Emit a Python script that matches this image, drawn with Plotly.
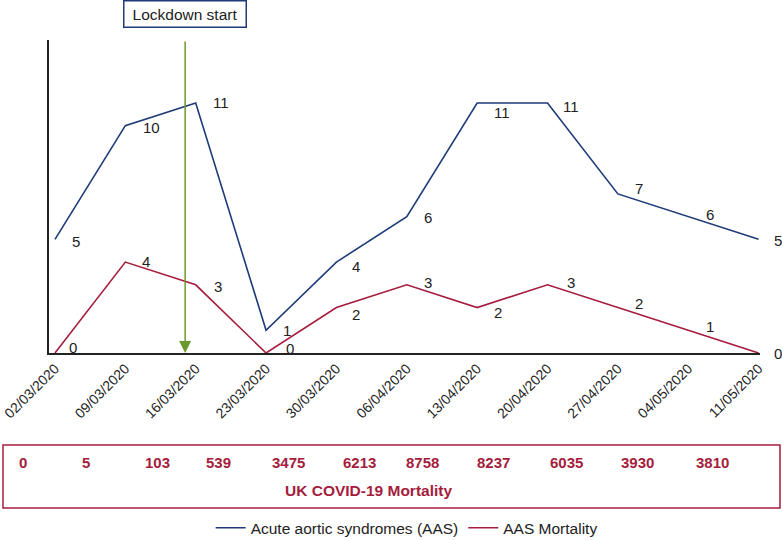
import plotly.graph_objects as go

dates = ["02/03/2020", "09/03/2020", "16/03/2020", "23/03/2020", "30/03/2020",
         "06/04/2020", "13/04/2020", "20/04/2020", "27/04/2020", "04/05/2020", "11/05/2020"]
aas = [5, 10, 11, 1, 4, 6, 11, 11, 7, 6, 5]
aas_mortality = [0, 4, 3, 0, 2, 3, 2, 3, 2, 1, 0]
uk_covid_mortality = [0, 5, 103, 539, 3475, 6213, 8758, 8237, 6035, 3930, 3810]

BLUE = "#1e3a78"
RED = "#a51d3d"
GREEN = "#6b9a2c"
FONT = "Liberation Sans, Arial, sans-serif"
NARROW = "Liberation Sans Narrow, Arial Narrow, Liberation Sans, Arial"

XMIN, XMAX = -0.085, 10.02

# label offsets (style only)
aas_yshift = [-2, -2, 0, 0, -4, -1, -10, -4, 5, 2, -1]
mort_yshift = [6, 1, -2, 5, -7, 2, -5, 2, 4, 4, 0]
aas_xshift = [21, 26, 25, 21, 20, 21, 25, 23, 21, 22, 19]
mort_xshift = [18, 21, 22, 24, 20, 21, 21, 23, 21, 22, 19]

fig = go.Figure()
fig.add_trace(go.Scatter(x=dates, y=aas, mode="lines", name="Acute aortic syndromes (AAS)",
                         line=dict(color=BLUE, width=1.6)))
fig.add_trace(go.Scatter(x=dates, y=aas_mortality, mode="lines", name="AAS Mortality",
                         line=dict(color=RED, width=1.6)))

annotations = []
for i, v in enumerate(aas):
    annotations.append(dict(x=i, y=v, xref="x", yref="y", text=str(v), showarrow=False,
                            xshift=aas_xshift[i], yshift=aas_yshift[i],
                            font=dict(family=FONT, size=15, color="#222")))
for i, v in enumerate(aas_mortality):
    annotations.append(dict(x=i, y=v, xref="x", yref="y", text=str(v), showarrow=False,
                            xshift=mort_xshift[i], yshift=mort_yshift[i],
                            font=dict(family=FONT, size=15, color="#222")))

# lockdown arrow
annotations.append(dict(x=1.85, y=0, xref="x", yref="y", ax=1.85, ay=13.77, axref="x", ayref="y",
                        showarrow=True, arrowhead=2, arrowsize=1.6, arrowwidth=1.5,
                        arrowcolor=GREEN, text=""))
annotations.append(dict(x=1.85, y=1.0815, xref="x", yref="paper", text="Lockdown start",
                        showarrow=False, font=dict(family=FONT, size=15.5, color="#222"),
                        bordercolor=BLUE, borderwidth=1.5, bgcolor="white",
                        width=117, height=21, borderpad=2, yanchor="middle"))

# UK COVID mortality row (placed between date ticks)
row_shift = [-0.455, -0.559, -0.536, -0.669, -0.688, -0.679, -0.770, -0.761, -0.723, -0.728, -0.648]
for i, v in enumerate(uk_covid_mortality):
    xp = (i + row_shift[i] - XMIN) / (XMAX - XMIN)
    annotations.append(dict(x=xp, y=-0.351, xref="paper", yref="paper", text=f"<b>{v}</b>",
                            showarrow=False, xanchor="center", yanchor="middle",
                            font=dict(family=NARROW, size=15, color=RED)))
annotations.append(dict(x=0.449, y=-0.438, xref="paper", yref="paper",
                        text="<b>UK COVID-19 Mortality</b>", showarrow=False,
                        xanchor="center", yanchor="middle",
                        font=dict(family=NARROW, size=15.5, color=RED)))

fig.add_shape(type="rect", xref="paper", yref="paper",
              x0=(3 - 49) / 711, x1=(780 - 49) / 711, y0=-0.495, y1=-0.294,
              line=dict(color=RED, width=1.5), fillcolor="rgba(0,0,0,0)")

fig.update_layout(
    width=782, height=540,
    margin=dict(l=49, r=22, t=40, b=187),
    plot_bgcolor="white", paper_bgcolor="white",
    font=dict(family=FONT, size=14, color="#222"),
    annotations=annotations,
    showlegend=True,
    legend=dict(orientation="h", x=0.52, xanchor="center", xref="container",
                y=0.022, yanchor="middle", yref="container",
                font=dict(family=FONT, size=15.5, color="#222"), itemwidth=30),
    xaxis=dict(type="category", range=[XMIN, XMAX], showgrid=False, zeroline=False,
               showline=True, linecolor="#222", linewidth=2, tickangle=-45, ticks="",
               automargin=False,
               tickfont=dict(family=FONT, size=14, color="#222")),
    yaxis=dict(range=[0, 13.77], showgrid=False, zeroline=False, showline=True,
               linecolor="#222", linewidth=2, showticklabels=False, ticks="",
               automargin=False),
)

fig.write_html("out.html", config={"displayModeBar": False},
               post_script="document.body.style.margin='0';")
